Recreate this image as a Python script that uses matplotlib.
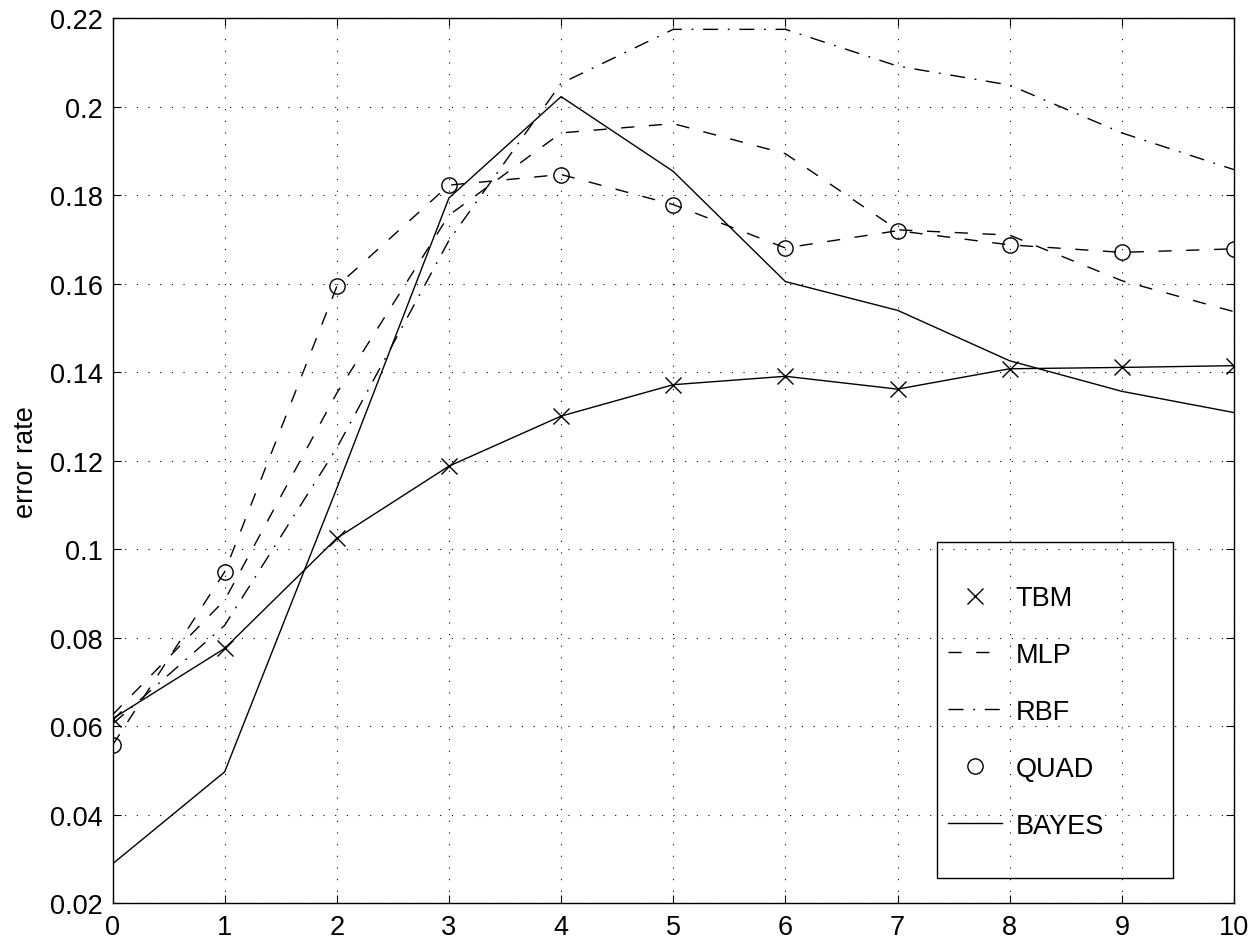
import matplotlib
matplotlib.use("Agg")
import matplotlib.pyplot as plt
from matplotlib.patches import Rectangle

plt.rcParams['font.family'] = ['Liberation Sans', 'DejaVu Sans']

# number of corrupted features (x) and error rate of each classifier
x = [0, 1, 2, 3, 4, 5, 6, 7, 8, 9, 10]
tbm = [0.0617, 0.0776, 0.1025, 0.1188, 0.1301, 0.1372, 0.1391, 0.1362, 0.1408, 0.1411, 0.1415]
mlp = [0.0626, 0.0885, 0.1353, 0.1755, 0.1941, 0.1962, 0.1894, 0.1722, 0.1710, 0.1607, 0.1537]
rbf = [0.0605, 0.0828, 0.1229, 0.1698, 0.2053, 0.2175, 0.2175, 0.2092, 0.2049, 0.1941, 0.1858]
quad = [0.0557, 0.0949, 0.1594, 0.1823, 0.1847, 0.1779, 0.1681, 0.1720, 0.1688, 0.1671, 0.1679]
bayes = [0.0289, 0.0497, 0.1138, 0.1794, 0.2023, 0.1854, 0.1605, 0.1540, 0.1426, 0.1357, 0.1309]

labels = ['TBM', 'MLP', 'RBF', 'QUAD', 'BAYES']
xticks = list(range(0, 11))
yticks = [0.02, 0.04, 0.06, 0.08, 0.1, 0.12, 0.14, 0.16, 0.18, 0.2, 0.22]
ytick_labels = ['0.02', '0.04', '0.06', '0.08', '0.1', '0.12', '0.14', '0.16', '0.18', '0.2', '0.22']

FS = 19.5
LW = 1.0
DASH = (0, (9.5, 10.5))
DASHDOT = (0, (10.8, 7.0, 1.3, 7.0))

fig = plt.figure(figsize=(12.57, 9.45), dpi=100)
ax = fig.add_axes([112.5 / 1257, 1 - 904.3 / 945, (1234 - 112.5) / 1257, (904.3 - 19.3) / 945])

# marker series (legend entries) and their connecting lines
ax.plot(x, tbm, linestyle='none', marker='x', ms=11, mew=LW, color='k', label=labels[0])
ax.plot(x, mlp, linestyle=DASH, lw=LW, color='k', label=labels[1])
ax.plot(x, rbf, linestyle=DASHDOT, lw=LW, color='k', label=labels[2])
ax.plot(x, quad, linestyle='none', marker='o', ms=11, mew=LW, mfc='none', color='k', label=labels[3])
ax.plot(x, bayes, linestyle='-', lw=LW, color='k', label=labels[4])
ax.plot(x, tbm, linestyle='-', lw=LW, color='k', label='_nolegend_')
ax.plot(x, quad, linestyle=DASH, lw=LW, color='k', label='_nolegend_')

ax.set_xlim(0, 10)
ax.set_ylim(0.02, 0.22)
ax.set_xticks(xticks)
ax.set_xticklabels([str(v) for v in xticks])
ax.set_yticks(yticks)
ax.set_yticklabels(ytick_labels)

ax.tick_params(direction='in', length=5.8, width=0.8, top=True, right=True,
               labelsize=FS, colors='k')
ax.tick_params(axis='x', pad=8)
ax.tick_params(axis='y', pad=7)
for s in ax.spines.values():
    s.set_linewidth(1.0)
    s.set_color('k')

ax.grid(True, color='k', linestyle=(0, (1, 9.5)), linewidth=0.8)
ax.set_axisbelow(True)

ax.set_ylabel('error rate', fontsize=FS, labelpad=8)

leg = ax.legend(loc='upper left', frameon=False, fontsize=FS,
                bbox_to_anchor=(948 / 1257, 1 - 586 / 945),
                bbox_transform=fig.transFigure,
                borderpad=0, borderaxespad=0, handlelength=2.0,
                handletextpad=0.5, labelspacing=1.14)

fig.add_artist(Rectangle((937 / 1257, 1 - 879 / 945), 236 / 1257, 336 / 945,
                         transform=fig.transFigure, facecolor='none',
                         edgecolor='k', linewidth=1.0, zorder=10))

fig.savefig('out.png', dpi=100)
